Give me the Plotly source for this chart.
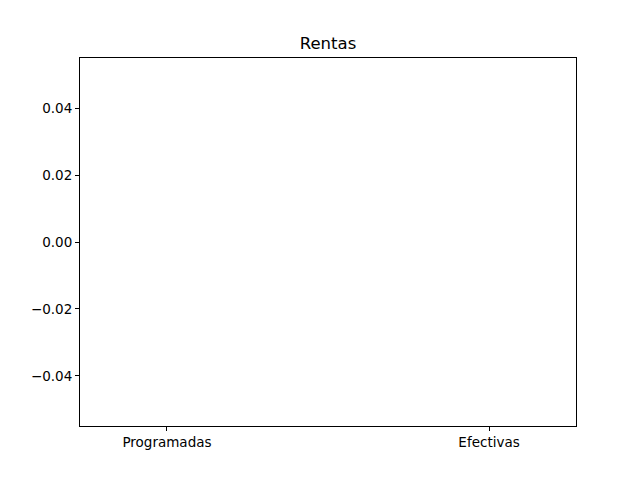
import plotly.graph_objects as go

# datos: dos categorias sin valores (barras de altura cero)
categorias = ['Programadas', 'Efectivas']
valores = [0, 0]
ticks_y = [-0.04, -0.02, 0.0, 0.02, 0.04]

fig = go.Figure()

fig.add_trace(go.Bar(x=[0, 1], y=valores, width=0.5,
                     marker=dict(color='#1f77b4', line=dict(width=0)), showlegend=False))

# la pagina tiene 8px de margen en el body, se compensa en los margenes
fig.update_layout(
    width=640, height=480,
    title=dict(text='Rentas', x=0.5, xanchor='center', y=1 - 35 / 480, yanchor='middle',
               font=dict(family='DejaVu Sans', size=16.5, color='black')),
    font=dict(family='DejaVu Sans', size=13.5, color='black'),
    paper_bgcolor='white', plot_bgcolor='white',
    margin=dict(l=72, r=72, t=50, b=62),
)

fig.update_xaxes(
    range=[-0.27, 1.27], tickvals=[0, 1], ticktext=categorias,
    showline=True, mirror=True, linecolor='black', linewidth=1,
    ticks='outside', ticklen=4, tickcolor='black', showgrid=False, zeroline=False,
)
fig.update_yaxes(
    range=[-0.055, 0.055], tickvals=ticks_y, tickformat='.2f',
    showline=True, mirror=True, linecolor='black', linewidth=1,
    ticks='outside', ticklen=4, tickcolor='black', showgrid=False, zeroline=False,
)

fig.write_html("out.html")
